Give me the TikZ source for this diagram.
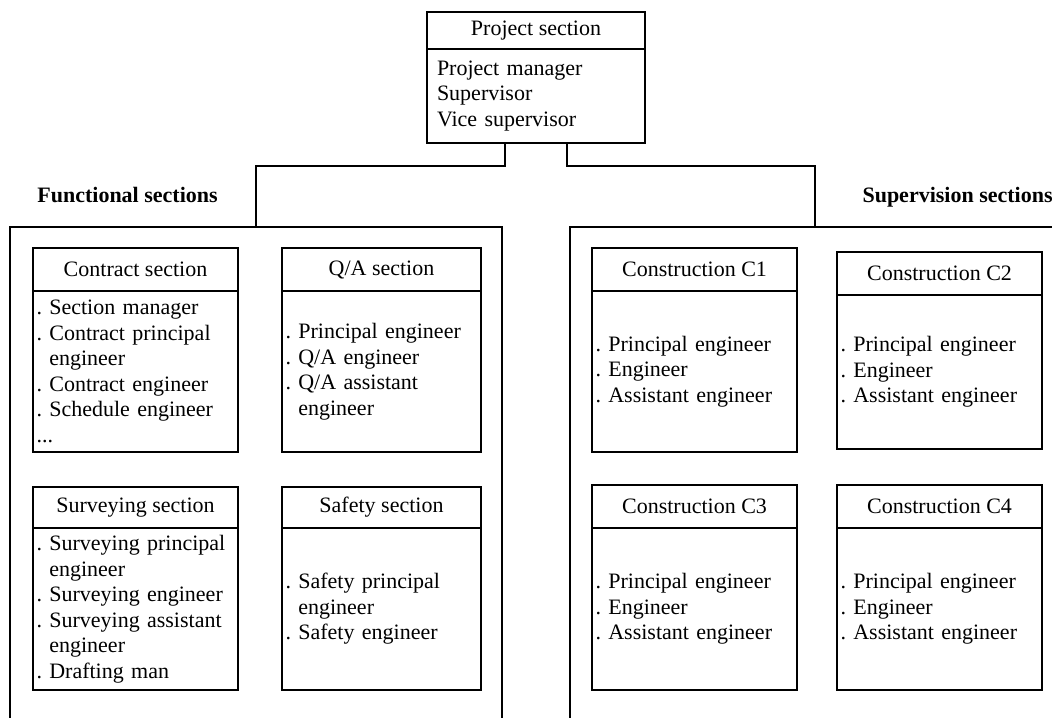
\documentclass[tikz,border=0pt]{standalone}
\usepackage{fontspec}
\setmainfont{Liberation Serif}
\usetikzlibrary{positioning}
\frenchspacing

\begin{document}
\begin{tikzpicture}[
  x=0.5pt, y=-0.5pt,
  txt/.style={font={\fontsize{11pt}{12.75pt}\selectfont}},
  head/.style={draw, line width=0.9pt, rectangle, txt, minimum width=102.5pt, minimum height=21.5pt, inner sep=0pt, outer sep=0pt},
  body/.style={draw, line width=0.9pt, rectangle, txt, align=left, minimum width=102.5pt, minimum height=80.5pt, text width=99pt, inner xsep=0pt, outer sep=0pt},
  frame/.style={draw, line width=0.9pt, rectangle, minimum height=276.5pt, inner sep=0pt, outer sep=0pt, anchor=north west},
  group/.style={font={\fontsize{11pt}{13pt}\selectfont\bfseries}},
  line/.style={line width=0.9pt}
]
\path[use as bounding box] (0,0) rectangle (1052,717);
\clip (0,0) rectangle (1052,717);

% Nodes
\node (proj) [head, minimum width=109pt, minimum height=18.5pt, anchor=north west] at (427,12) {Project section};
\node (projb) [body, minimum width=109pt, minimum height=47pt, below=0pt of proj] {
    Project manager \\
    Supervisor \\
    Vice supervisor
};

\node (func) [frame, minimum width=246pt] at (10,227) {};
\node (sup) [frame, minimum width=245pt] at (570,227) {};
\node (funclab) [group, anchor=base west, inner sep=0pt] at (37,202) {Functional sections};
\node (suplab) [group, anchor=base east, inner sep=0pt] at (1053,202) {Supervision sections};

% Functional sections
\node (contract) [head, anchor=north west] at (33,248) {Contract section};
\node (contractb) [body, below=0pt of contract] {
    . Section manager \\
    . Contract principal \\
    \phantom{. }engineer \\
    . Contract engineer \\
    . Schedule engineer \\
    ...
};

\node (qa) [head, minimum width=99.5pt, anchor=north west] at (282,248) {Q/A section};
\node (qab) [body, minimum width=99.5pt, text width=96pt, below=0pt of qa] {
    . Principal engineer \\
    . Q/A engineer \\
    . Q/A assistant \\
    \phantom{. }engineer
};

\node (survey) [head, minimum height=20.5pt, anchor=north west] at (33,487) {Surveying section};
\node (surveyb) [body, minimum height=81pt, below=0pt of survey] {
    . Surveying principal \\
    \phantom{. }engineer \\
    . Surveying engineer \\
    . Surveying assistant \\
    \phantom{. }engineer \\
    . Drafting man
};

\node (safety) [head, minimum width=99.5pt, minimum height=20.5pt, anchor=north west] at (282,487) {Safety section};
\node (safetyb) [body, minimum width=99.5pt, text width=96pt, minimum height=81pt, below=0pt of safety] {
    . Safety principal \\
    \phantom{. }engineer \\
    . Safety engineer
};

% Supervision sections
\node (c1) [head, anchor=north west] at (592,248) {Construction C1};
\node (c1b) [body, below=0pt of c1] {
    . Principal engineer \\
    . Engineer \\
    . Assistant engineer
};

\node (c2) [head, anchor=north west] at (837,252) {Construction C2};
\node (c2b) [body, minimum height=77pt, below=0pt of c2] {
    . Principal engineer \\
    . Engineer \\
    . Assistant engineer
};

\node (c3) [head, minimum height=21.5pt, anchor=north west] at (592,485) {Construction C3};
\node (c3b) [body, minimum height=81pt, below=0pt of c3] {
    . Principal engineer \\
    . Engineer \\
    . Assistant engineer
};

\node (c4) [head, minimum height=21.5pt, anchor=north west] at (837,485) {Construction C4};
\node (c4b) [body, minimum height=81pt, below=0pt of c4] {
    . Principal engineer \\
    . Engineer \\
    . Assistant engineer
};

% Lines
\draw [line] ([xshift=-15.5pt]projb.south) -- ++(0,-11.5pt) -| (func.north);
\draw [line] ([xshift=15.5pt]projb.south) -- ++(0,-11.5pt) -| (sup.north);

\end{tikzpicture}
\end{document}
